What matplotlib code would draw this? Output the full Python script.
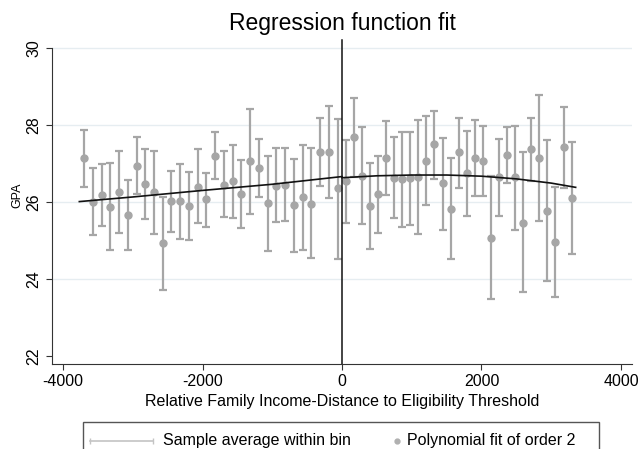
import matplotlib
matplotlib.use("Agg")
import matplotlib.pyplot as plt
from matplotlib.lines import Line2D
from matplotlib.patches import Rectangle
import numpy as np

plt.rcParams['font.family'] = ['Liberation Sans', 'DejaVu Sans']
plt.rcParams['axes.unicode_minus'] = False

# bins left of the threshold
left_x = [-3699, -3574, -3448, -3323, -3197, -3072, -2946, -2821, -2696, -2570,
          -2445, -2319, -2194, -2068, -1943, -1818, -1692, -1567, -1441, -1316,
          -1190, -1065, -940, -814, -689, -563, -438, -312, -187, -62]
left_y = [27.13, 26.01, 26.19, 25.88, 26.27, 25.65, 26.93, 26.46, 26.25, 24.93,
          26.02, 26.02, 25.90, 26.40, 26.07, 27.20, 26.45, 26.55, 26.21, 27.06,
          26.88, 25.97, 26.42, 26.43, 25.91, 26.12, 25.96, 27.31, 27.31, 26.35]
left_hi = [27.87, 26.88, 26.99, 27.02, 27.33, 26.57, 27.68, 27.37, 27.33, 26.14,
           26.81, 26.99, 26.79, 27.37, 26.76, 27.81, 27.33, 27.49, 27.09, 28.42,
           27.64, 27.20, 27.39, 27.39, 27.12, 27.48, 27.39, 28.19, 28.50, 28.16]
left_lo = [26.38, 25.14, 25.38, 24.75, 25.20, 24.74, 26.21, 25.57, 25.17, 23.71,
           25.22, 25.05, 25.01, 25.45, 25.36, 26.60, 25.60, 25.58, 25.33, 25.70,
           26.13, 24.72, 25.47, 25.50, 24.69, 24.75, 24.55, 26.42, 26.11, 24.53]

# bins right of the threshold
right_x = [53, 169, 284, 400, 516, 632, 747, 863, 979, 1094,
           1210, 1326, 1441, 1557, 1673, 1789, 1904, 2020, 2136, 2251,
           2367, 2483, 2598, 2714, 2830, 2946, 3061, 3177, 3293]
right_y = [26.55, 27.68, 26.68, 25.90, 26.21, 27.15, 26.63, 26.59, 26.63, 26.65,
           27.07, 27.50, 26.48, 25.83, 27.29, 26.75, 27.14, 27.07, 25.07, 26.64,
           27.22, 26.64, 25.46, 27.37, 27.14, 25.77, 24.95, 27.42, 26.10]
right_hi = [27.61, 28.71, 27.95, 27.01, 27.20, 28.11, 27.69, 27.81, 27.82, 28.14,
            28.23, 28.37, 27.67, 27.13, 28.17, 27.85, 28.12, 27.97, 26.67, 27.63,
            27.95, 27.97, 27.29, 28.18, 28.79, 27.60, 26.38, 28.48, 27.56]
right_lo = [25.45, 26.64, 25.43, 24.77, 25.20, 26.17, 25.59, 25.34, 25.40, 25.16,
            25.92, 26.60, 25.27, 24.52, 26.37, 25.64, 26.16, 26.16, 23.47, 25.64,
            26.48, 25.27, 23.66, 26.55, 25.50, 23.94, 23.52, 26.37, 24.66]

# fitted curves
left_fit_x = [-3766, -3000, -2000, -1000, 0]
left_fit_y = [26.01, 26.13, 26.30, 26.46, 26.66]
right_fit_x = [0, 500, 1000, 1500, 2000, 2500, 3000, 3350]
right_fit_y = [26.63, 26.68, 26.70, 26.70, 26.67, 26.60, 26.49, 26.38]

grey = '#a6a6a6'
axcol = '#333333'
fs = 11.5

fig = plt.figure(figsize=(6.4, 4.49), dpi=100)
ax = fig.add_axes([52 / 640, 85 / 449, 580 / 640, 325.6 / 449])

for yg in [24, 26, 28, 30]:
    ax.axhline(yg, color='#e6edf1', lw=1.0, zorder=0)

for xs, ys, hi, lo in [(left_x, left_y, left_hi, left_lo),
                       (right_x, right_y, right_hi, right_lo)]:
    ys = np.array(ys)
    yerr = [ys - np.array(lo), np.array(hi) - ys]
    ax.errorbar(xs, ys, yerr=yerr, fmt='o', color=grey, ecolor=grey,
                ms=5, elinewidth=1.6, capsize=3.2, capthick=1.6, zorder=2)

ax.plot(left_fit_x, left_fit_y, color='#111111', lw=1.2, zorder=3)
ax.plot(right_fit_x, right_fit_y, color='#111111', lw=1.2, zorder=3)
ax.plot([0, 0], [21.79, 30.22], color='#111111', lw=1.1, zorder=3)

ax.set_xlim(-4158, 4158)
ax.set_ylim(21.79, 30.25)
ax.set_xticks([-4000, -2000, 0, 2000, 4000])
ax.set_yticks([22, 24, 26, 28, 30])
ax.tick_params(axis='both', colors=axcol, labelcolor='black', labelsize=fs,
               length=4, width=0.8)
ax.tick_params(axis='y', labelrotation=90)
for lab in ax.get_yticklabels():
    lab.set_verticalalignment('center')

for side in ['top', 'right']:
    ax.spines[side].set_visible(False)
for side in ['left', 'bottom']:
    ax.spines[side].set_color(axcol)
    ax.spines[side].set_linewidth(0.8)
ax.spines['left'].set_bounds(21.79, 30)

ax.set_title('Regression function fit', fontsize=16.5, pad=6)
ax.set_xlabel('Relative Family Income-Distance to Eligibility Threshold',
              fontsize=fs, labelpad=3)
fig.text(17 / 640, 1 - 195 / 449, 'GPA', rotation=90, fontsize=9,
         ha='center', va='center')

# legend box, drawn by hand to match the original layout
ly = 1 - 441 / 449
fig.add_artist(Rectangle((83 / 640, -0.05), 516 / 640, 27 / 449 + 0.05,
                         transform=fig.transFigure, fill=False,
                         edgecolor='#555555', lw=1.0))
fig.add_artist(Line2D([90 / 640, 153 / 640], [ly, ly], transform=fig.transFigure,
                      color='#c4c4c4', lw=1.2, marker='|', ms=5))
fig.text(163 / 640, ly, 'Sample average within bin', fontsize=fs, va='center')
fig.add_artist(Line2D([397 / 640], [ly], transform=fig.transFigure,
                      color='#b0b0b0', marker='o', ms=3.5, lw=0))
fig.text(407 / 640, ly, 'Polynomial fit of order 2', fontsize=fs, va='center')

fig.savefig('out.png', dpi=100)
